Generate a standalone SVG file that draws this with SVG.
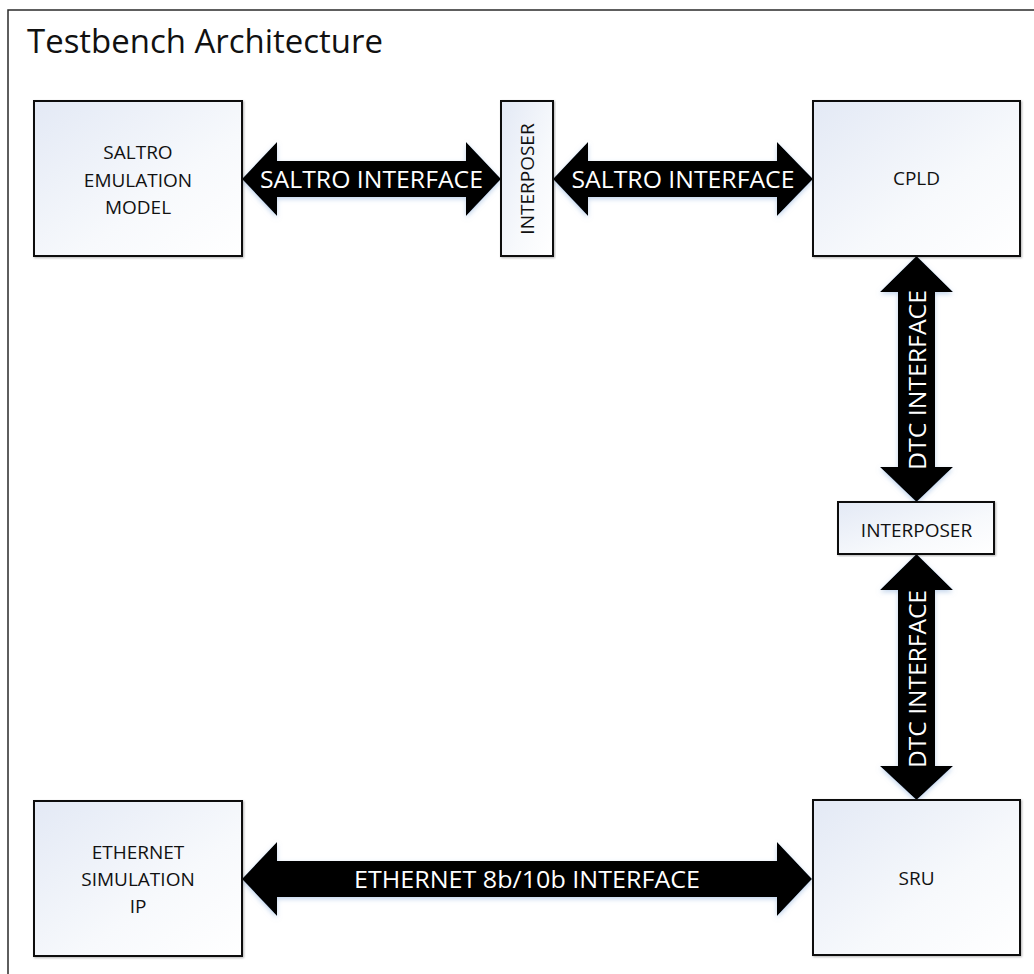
<svg xmlns="http://www.w3.org/2000/svg" width="1034" height="974" viewBox="0 0 1034 974">
  <defs>
    <linearGradient id="boxFill" x1="0" y1="0" x2="1" y2="1">
      <stop offset="0" stop-color="#e3e9f5"/>
      <stop offset="0.6" stop-color="#f7f9fc"/>
      <stop offset="1" stop-color="#ffffff"/>
    </linearGradient>
    <filter id="glow" x="-10%" y="-20%" width="120%" height="140%">
      <feDropShadow dx="0" dy="2" stdDeviation="2.5" flood-color="#8fb0dc" flood-opacity="0.55"/>
    </filter>
    <filter id="boxShadow" x="-5%" y="-5%" width="110%" height="110%">
      <feDropShadow dx="1" dy="1" stdDeviation="0.8" flood-color="#000" flood-opacity="0.3"/>
    </filter>
  </defs>
  <style>
    .frame { fill: #ffffff; stroke: #2a2a2a; stroke-width: 1.5; }
    .box { fill: url(#boxFill); stroke: #111; stroke-width: 2; filter: url(#boxShadow); }
    .arrow { fill: #000; filter: url(#glow); }
    .label { font-family: "Open Sans", "Liberation Sans", Arial, sans-serif; font-size: 19px; fill: #111; text-anchor: middle; }
    .bus { font-family: "Open Sans", "Liberation Sans", Arial, sans-serif; font-size: 24px; fill: #fff; text-anchor: middle; }
    .title { font-family: "Open Sans", "Liberation Sans", Arial, sans-serif; font-size: 32px; fill: #111; }
  </style>

  <rect class="frame" x="8" y="10" width="1040" height="990"/>
  <text class="title" x="27" y="53" textLength="356" lengthAdjust="spacingAndGlyphs">Testbench Architecture</text>

  <!-- bus arrows -->
  <g id="connectors">
    <g id="saltro-bus-left">
      <polygon class="arrow" points="242,179 277,142 277,161 466,161 466,142 501,179 466,216 466,197 277,197 277,216"/>
      <text class="bus" x="371.5" y="188" textLength="223" lengthAdjust="spacingAndGlyphs">SALTRO INTERFACE</text>
    </g>
    <g id="saltro-bus-right">
      <polygon class="arrow" points="553,179 588,142 588,161 777,161 777,142 813,179 777,216 777,197 588,197 588,216"/>
      <text class="bus" x="683" y="188" textLength="223" lengthAdjust="spacingAndGlyphs">SALTRO INTERFACE</text>
    </g>
    <g id="dtc-bus-upper">
      <polygon class="arrow" points="916.5,256 953,292 935,292 935,467 953,467 916.5,502 880,467 898,467 898,292 880,292"/>
      <text class="bus" transform="translate(925.5,380) rotate(-90)" x="0" y="0" textLength="180" lengthAdjust="spacingAndGlyphs">DTC INTERFACE</text>
    </g>
    <g id="dtc-bus-lower">
      <polygon class="arrow" points="916.5,554 953,590 935,590 935,766 953,766 916.5,800 880,766 898,766 898,590 880,590"/>
      <text class="bus" transform="translate(925.5,679) rotate(-90)" x="0" y="0" textLength="178" lengthAdjust="spacingAndGlyphs">DTC INTERFACE</text>
    </g>
    <g id="ethernet-bus">
      <polygon class="arrow" points="242,879 277,842 277,861 777,861 777,842 812,879 777,916 777,897 277,897 277,916"/>
      <text class="bus" x="527" y="888" textLength="346" lengthAdjust="spacingAndGlyphs">ETHERNET 8b/10b INTERFACE</text>
    </g>
  </g>

  <g id="saltro-model">
    <rect class="box" x="34" y="101" width="208" height="155"/>
    <text class="label" x="138" y="159">SALTRO</text>
    <text class="label" x="138" y="187">EMULATION</text>
    <text class="label" x="138" y="214">MODEL</text>
  </g>

  <g id="interposer-saltro">
    <rect class="box" x="501" y="101" width="52" height="155"/>
    <text class="label" transform="translate(534,179) rotate(-90)" x="0" y="0">INTERPOSER</text>
  </g>

  <g id="cpld">
    <rect class="box" x="813" y="101" width="207" height="155"/>
    <text class="label" x="916.5" y="185">CPLD</text>
  </g>

  <g id="interposer-dtc">
    <rect class="box" x="838" y="502" width="156" height="52"/>
    <text class="label" x="916.5" y="537">INTERPOSER</text>
  </g>

  <g id="sru">
    <rect class="box" x="813" y="800" width="207" height="155"/>
    <text class="label" x="916.5" y="885">SRU</text>
  </g>

  <g id="ethernet-ip">
    <rect class="box" x="34" y="801" width="208" height="155"/>
    <text class="label" x="138" y="859">ETHERNET</text>
    <text class="label" x="138" y="886">SIMULATION</text>
    <text class="label" x="138" y="913">IP</text>
  </g>
</svg>
